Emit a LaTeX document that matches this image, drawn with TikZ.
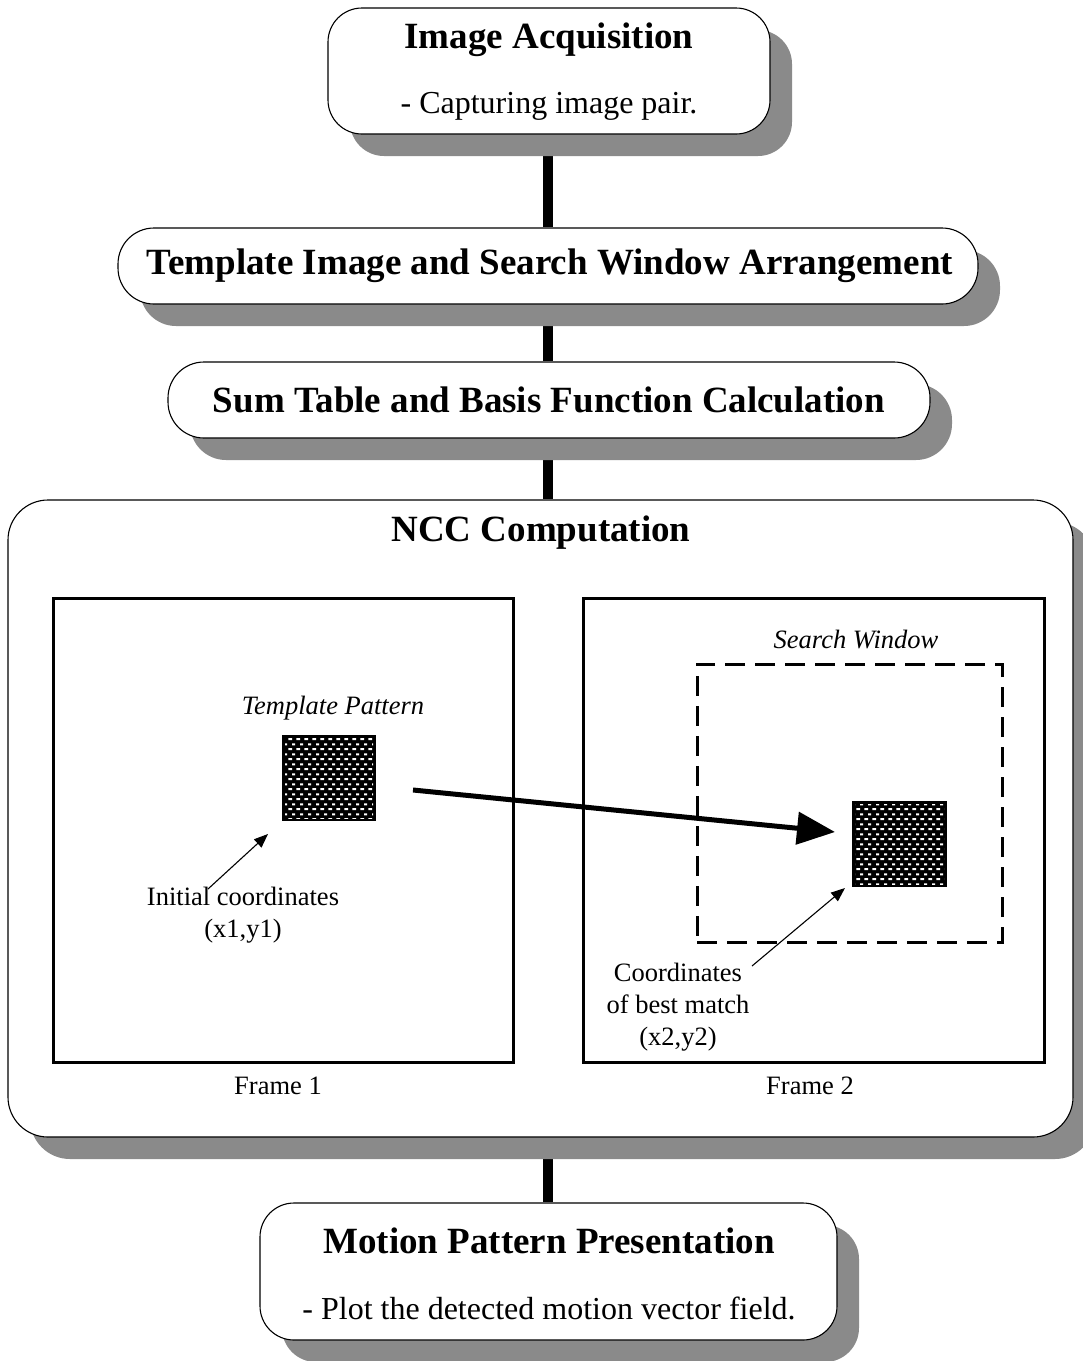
\documentclass[tikz,border=0pt]{standalone}
\usepackage{fontspec}
\setmainfont{Liberation Serif}
\usetikzlibrary{shadows,arrows.meta,patterns,backgrounds}
\definecolor{shade}{HTML}{8A8A8A}
\pgfdeclarepatternformonly{bricksdots}{\pgfqpoint{0pt}{0pt}}{\pgfqpoint{8pt}{10pt}}{\pgfqpoint{8pt}{10pt}}{%
  \pgfpathrectangle{\pgfqpoint{0.5pt}{1pt}}{\pgfqpoint{4pt}{2.2pt}}%
  \pgfpathrectangle{\pgfqpoint{4.5pt}{6pt}}{\pgfqpoint{3.5pt}{2.2pt}}%
  \pgfusepath{fill}}
\tikzset{
  stagebox/.style={draw=black,line width=1.1pt,fill=white,rounded corners=34pt,
    drop shadow={shadow xshift=22pt,shadow yshift=-22pt,fill=shade,opacity=1},
    inner sep=0pt},
  titletext/.style={font=\fontsize{37}{44}\selectfont\bfseries,inner sep=0pt},
  subtext/.style={font=\fontsize{32}{38}\selectfont,inner sep=0pt},
  labeltext/.style={font=\fontsize{26.5}{32}\selectfont,inner sep=0pt},
  itlabel/.style={font=\fontsize{26.5}{32}\selectfont\itshape,inner sep=0pt},
  framebox/.style={draw=black,line width=3pt,fill=white,inner sep=0pt},
  link/.style={line width=10pt},
  smallarrow/.style={line width=1.1pt,-{Triangle[length=14pt,width=11pt]}},
  patbox/.style={draw=black,line width=2pt,fill=black,inner sep=0pt},
}
\begin{document}
\begin{tikzpicture}[x=1pt,y=-1pt]
\useasboundingbox (0,0) rectangle (1083,1361);
\coordinate (axis) at (548,0);
% stage boxes
\node[stagebox,minimum width=442pt,minimum height=126pt] (acq) at (549,71) {};
\node[titletext] (acqT) at (549,40) {Image Acquisition};
\node[subtext] (acqS) at (549,106) {- Capturing image pair.};

\node[stagebox,minimum width=860pt,minimum height=76pt,rounded corners=36pt] (tmpl) at (548,266) {};
\node[titletext] (tmplT) at (550,266) {Template Image and Search Window Arrangement};

\node[stagebox,minimum width=762pt,minimum height=76pt,rounded corners=36pt] (sum) at (549,400) {};
\node[titletext] (sumT) at (549,400) {Sum Table and Basis Function Calculation};

\node[stagebox,minimum width=1065pt,minimum height=637pt,rounded corners=40pt] (ncc) at (540.5,818.5) {};
\node[titletext] (nccT) at (541,533) {NCC Computation};

\node[stagebox,minimum width=577pt,minimum height=137pt] (mot) at (548.5,1271.5) {};
\node[titletext] (motT) at (549,1241) {Motion Pattern Presentation};
\node[subtext] (motS) at (549,1308) {- Plot the detected motion vector field.};

% connectors
\begin{scope}[on background layer]
\draw[link] (acq.south -| axis) -- (tmpl.north -| axis);
\draw[link] (tmpl.south -| axis) -- (sum.north -| axis);
\draw[link] (sum.south -| axis) -- (ncc.north -| axis);
\draw[link] (ncc.south -| axis) -- (mot.north -| axis);
\end{scope}

% frames
\node[framebox,minimum width=460pt,minimum height=464pt] (f1) at (283,830) {};
\node[framebox,minimum width=461pt,minimum height=464pt] (f2) at (813.5,830) {};
\node[labeltext] (f1L) at (278,1086) {Frame 1};
\node[labeltext] (f2L) at (810,1086) {Frame 2};

% search window
\node[draw=black,line width=3pt,dash pattern=on 20pt off 10pt,minimum width=305pt,minimum height=278pt,inner sep=0pt] (sw) at (849.5,803) {};
\node[itlabel] (swL) at (856,639) {Search Window};

% template patterns
\node[patbox,minimum width=92pt,minimum height=84pt] (tp) at (329,778) {};
\fill[pattern=bricksdots,pattern color=white] ([shift={(3pt,-3pt)}]tp.north west) rectangle ([shift={(-3pt,3pt)}]tp.south east);
\node[itlabel] (tpL) at (333,708) {Template Pattern};

\node[patbox,minimum width=93pt,minimum height=84pt] (bm) at (899.5,844) {};
\fill[pattern=bricksdots,pattern color=white] ([shift={(3pt,-3pt)}]bm.north west) rectangle ([shift={(-3pt,3pt)}]bm.south east);

% big arrow
\coordinate (aS) at (413,790);
\coordinate (aE) at (835,832);
\draw[line width=5pt,-{Triangle[length=38pt,width=32pt]}] (aS) -- (aE);

% labels and small arrows
\node[labeltext,align=center] (ic) at (243,915.5) {Initial coordinates\\(x1,y1)};
\coordinate (icS) at (208,889);
\coordinate (icE) at (268,834);
\draw[smallarrow] (icS) -- (icE);

\node[labeltext,align=center] (bc) at (678,1007.5) {Coordinates\\of best match\\(x2,y2)};
\coordinate (bcS) at (752,966);
\coordinate (bcE) at (845,888);
\draw[smallarrow] (bcS) -- (bcE);
\end{tikzpicture}
\end{document}
